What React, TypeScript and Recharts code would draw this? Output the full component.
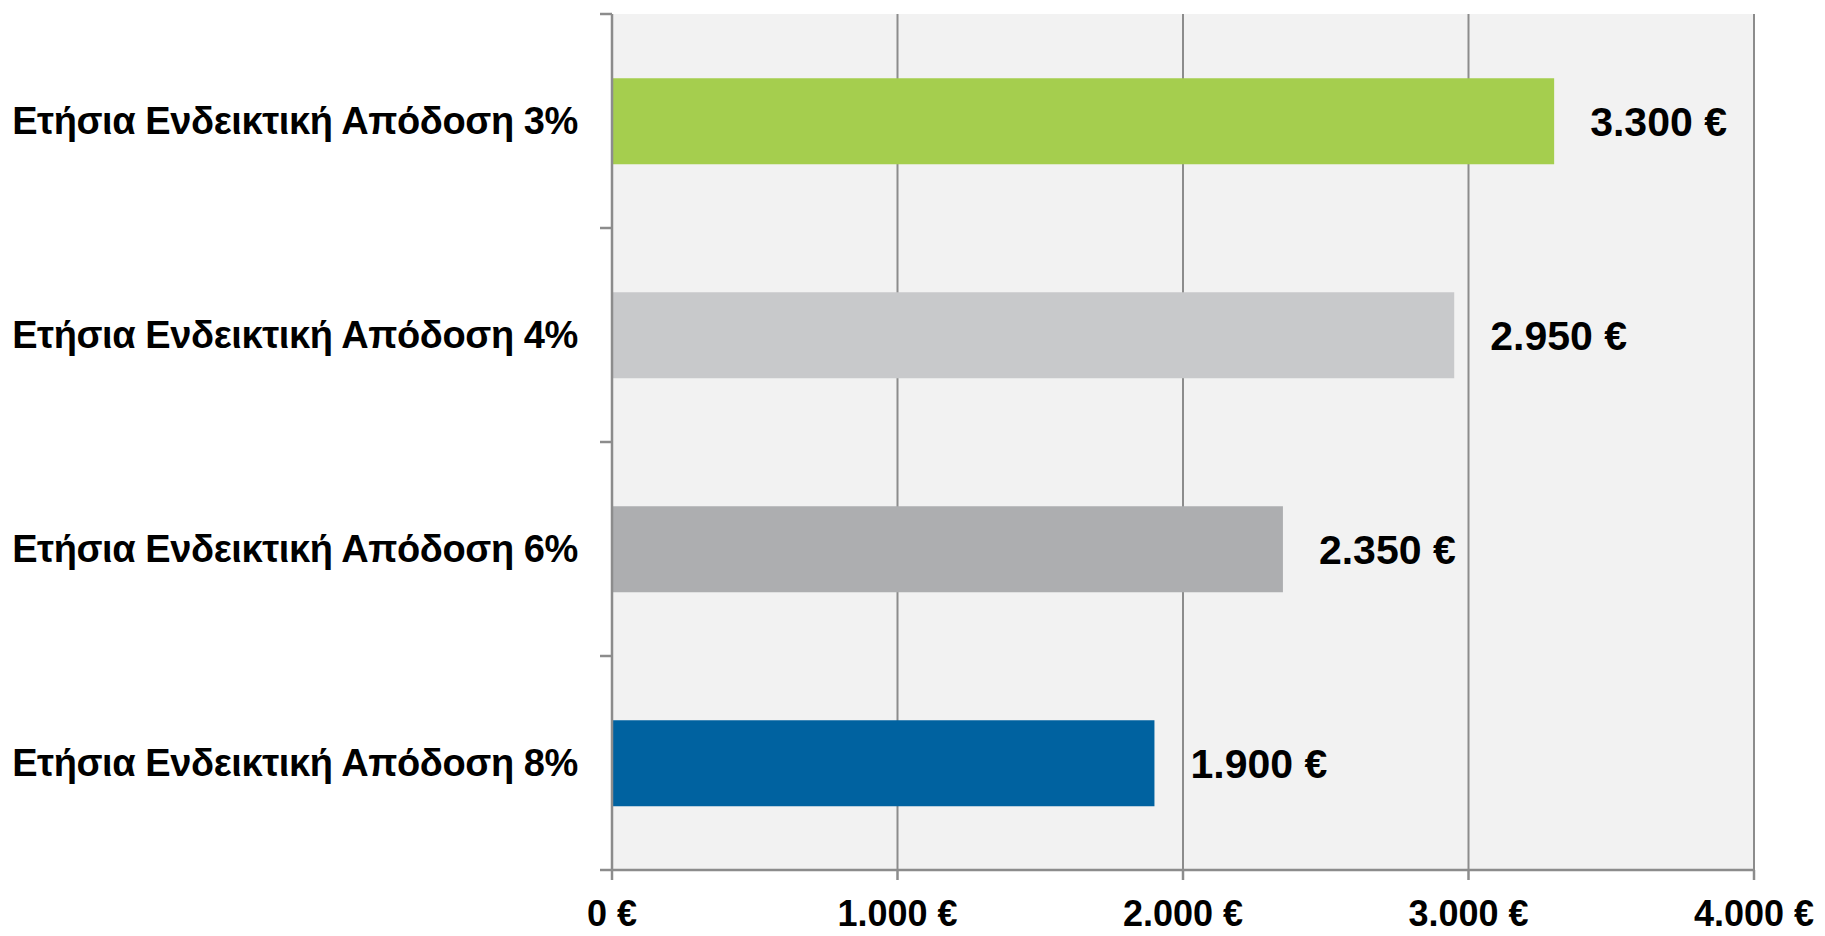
import { Bar, BarChart, CartesianGrid, Cell, LabelList, XAxis, YAxis } from "recharts"

const categories = [
  "Ετήσια Ενδεικτική Απόδοση 3%",
  "Ετήσια Ενδεικτική Απόδοση 4%",
  "Ετήσια Ενδεικτική Απόδοση 6%",
  "Ετήσια Ενδεικτική Απόδοση 8%",
]
const values = [3300, 2950, 2350, 1900]
const barColors = ["#A5CE4E", "#C8C9CB", "#ADAEB0", "#0062A0"]
const xTicks = [0, 1000, 2000, 3000, 4000]

const data = categories.map((name, i) => ({ name, value: values[i] }))

const euro = (n: number) => {
  const s = String(Math.round(n)).replace(/\B(?=(\d{3})+(?!\d))/g, ".")
  return `${s} €`
}

const font = "'Liberation Sans', Arial, sans-serif"
const axisGray = "#8C8C8C"
const TICK_SIZE = 6
const TICK_MARGIN = 28
const EDGE_TICK = 12

// category label, plus the small tick marks that sit on the band edges
function CategoryTick(props: any) {
  const { x, y, payload, index, visibleTicksCount } = props
  const half = payload?.offset ?? 0
  const axisX = x + TICK_SIZE + TICK_MARGIN
  const last = index === (visibleTicksCount ?? 4) - 1
  return (
    <g>
      {half > 0 && (
        <line x1={axisX - EDGE_TICK} x2={axisX} y1={y - half} y2={y - half} stroke={axisGray} strokeWidth={2.5} />
      )}
      {half > 0 && last && (
        <line x1={axisX - EDGE_TICK} x2={axisX} y1={y + half} y2={y + half} stroke={axisGray} strokeWidth={2.5} />
      )}
      <text
        x={x}
        y={y}
        dy="0.355em"
        textAnchor="end"
        fill="#000"
        fontSize={38}
        fontWeight={700}
        fontFamily={font}
        letterSpacing={-0.4}
      >
        {payload.value}
      </text>
    </g>
  )
}

export default function App() {
  return (
    <div style={{ position: "absolute", left: 0, top: 0, fontFamily: font }}>
      <BarChart
        width={1825}
        height={936}
        data={data}
        layout="vertical"
        margin={{ top: 14, right: 71, bottom: 0, left: 0 }}
        barCategoryGap="30%"
      >
        <CartesianGrid horizontal={false} stroke={axisGray} strokeWidth={2} fill="#F2F2F2" />
        <XAxis
          type="number"
          domain={[0, 4000]}
          ticks={xTicks}
          tickFormatter={euro}
          height={66}
          stroke={axisGray}
          strokeWidth={2.5}
          tickSize={10}
          tickMargin={20}
          tick={{ fill: "#000", fontSize: 36, fontWeight: 700, fontFamily: font }}
        />
        <YAxis
          type="category"
          dataKey="name"
          width={612}
          stroke={axisGray}
          strokeWidth={2.5}
          tickLine={false}
          tickSize={TICK_SIZE}
          tickMargin={TICK_MARGIN}
          tick={<CategoryTick />}
        />
        <Bar dataKey="value" isAnimationActive={false}>
          {data.map((d, i) => (
            <Cell key={d.name} fill={barColors[i]} />
          ))}
          <LabelList
            dataKey="value"
            position="right"
            offset={36}
            formatter={(v: number) => euro(v)}
            style={{ fill: "#000", fontSize: 41, fontWeight: 700, fontFamily: font }}
          />
        </Bar>
      </BarChart>
    </div>
  )
}
